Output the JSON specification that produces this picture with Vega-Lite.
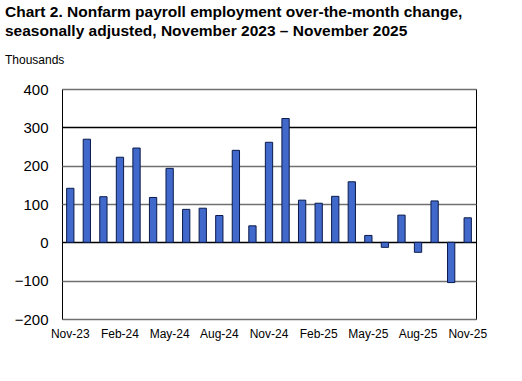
{
  "$schema": "https://vega.github.io/schema/vega-lite/v6.json",
  "autosize": "none",
  "width": 414,
  "height": 230,
  "padding": {"left": 62, "top": 89, "right": 46, "bottom": 62},
  "background": "white",
  "title": {
    "text": ["Chart 2. Nonfarm payroll employment over-the-month change,", "seasonally adjusted, November 2023 – November 2025"],
    "subtitle": "Thousands",
    "anchor": "start",
    "frame": "group",
    "dx": -57,
    "offset": 16,
    "font": "Liberation Sans",
    "fontSize": 15.5,
    "fontWeight": "bold",
    "lineHeight": 19,
    "color": "black",
    "subtitleFont": "Liberation Sans",
    "subtitleFontSize": 12,
    "subtitleColor": "black",
    "subtitlePadding": 16
  },
  "config": {
    "view": {"stroke": "black", "strokeWidth": 1},
    "axis": {"labelFont": "Liberation Sans", "labelColor": "black", "domain": false, "ticks": false, "labelOverlap": false}
  },
  "data": {
    "values": [
      {"month": "Nov-23", "change": 141},
      {"month": "Dec-23", "change": 269},
      {"month": "Jan-24", "change": 119},
      {"month": "Feb-24", "change": 222},
      {"month": "Mar-24", "change": 246},
      {"month": "Apr-24", "change": 117},
      {"month": "May-24", "change": 193},
      {"month": "Jun-24", "change": 86},
      {"month": "Jul-24", "change": 89},
      {"month": "Aug-24", "change": 70},
      {"month": "Sep-24", "change": 240},
      {"month": "Oct-24", "change": 43},
      {"month": "Nov-24", "change": 261},
      {"month": "Dec-24", "change": 323},
      {"month": "Jan-25", "change": 110},
      {"month": "Feb-25", "change": 102},
      {"month": "Mar-25", "change": 120},
      {"month": "Apr-25", "change": 158},
      {"month": "May-25", "change": 18},
      {"month": "Jun-25", "change": -13},
      {"month": "Jul-25", "change": 71},
      {"month": "Aug-25", "change": -26},
      {"month": "Sep-25", "change": 108},
      {"month": "Oct-25", "change": -105},
      {"month": "Nov-25", "change": 64}
    ]
  },
  "mark": {"type": "bar", "color": "#4169CB", "stroke": "#0a1a4a", "strokeWidth": 1},
  "encoding": {
    "x": {
      "field": "month",
      "type": "ordinal",
      "sort": null,
      "scale": {"paddingInner": 0.56, "paddingOuter": 0.28},
      "axis": {
        "title": null,
        "labelAngle": 0,
        "values": ["Nov-23", "Feb-24", "May-24", "Aug-24", "Nov-24", "Feb-25", "May-25", "Aug-25", "Nov-25"],
        "labelFontSize": 12,
        "labelPadding": 9,
        "grid": false
      }
    },
    "y": {
      "field": "change",
      "type": "quantitative",
      "scale": {"domain": [-200, 400], "nice": false},
      "axis": {
        "title": null,
        "values": [-200, -100, 0, 100, 200, 300, 400],
        "labelOverlap": false,
        "labelFontSize": 15,
        "labelPadding": 14,
        "grid": true,
        "gridColor": {"condition": {"test": "datum.value === 0 || datum.value === 300", "value": "black"}, "value": "#707070"},
        "gridWidth": 1.3
      }
    }
  }
}
